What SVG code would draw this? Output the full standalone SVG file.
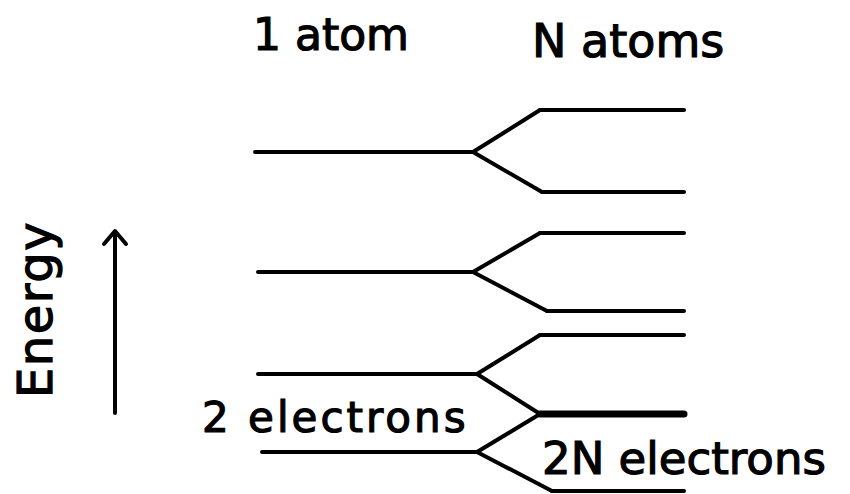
<svg xmlns="http://www.w3.org/2000/svg" width="850" height="494" viewBox="0 0 850 494">
<style>
.lv{stroke:#000;stroke-width:4;stroke-linecap:round;fill:none}
.thick{stroke-width:7}
.br{stroke:#000;stroke-width:4;stroke-linecap:round;stroke-linejoin:round;fill:none}
.t{font-family:"DejaVu Sans",sans-serif;fill:#000;stroke:#000;stroke-width:1.2}
</style>
<rect width="850" height="494" fill="#fff"/>
<g id="title-1atom"><text class="t" x="253" y="50" font-size="44">1 atom</text></g>
<g id="title-Natoms"><text class="t" x="532" y="57" font-size="46">N atoms</text></g>
<g id="energy-axis">
<text class="t" font-size="48" letter-spacing="1.5" transform="translate(52,398) rotate(-90)">Energy</text>
<line class="lv" x1="115" y1="413" x2="115" y2="232" stroke-width="3"/>
<polyline class="br" points="104,244 115,231 126,244" stroke-width="3.5"/>
</g>
<g id="atom-level-1"><line class="lv" x1="255" y1="152" x2="473" y2="152"/></g>
<g id="atom-level-2"><line class="lv" x1="258" y1="272" x2="473" y2="272"/></g>
<g id="atom-level-3"><line class="lv" x1="258" y1="374" x2="477" y2="374"/></g>
<g id="atom-level-4"><line class="lv" x1="262" y1="452" x2="477" y2="452"/></g>
<g id="band-1-upper"><line class="lv" x1="540" y1="110" x2="684" y2="110"/></g>
<g id="band-1-lower"><line class="lv" x1="542" y1="192" x2="684" y2="192"/></g>
<g id="band-2-upper"><line class="lv" x1="540" y1="233" x2="684" y2="233"/></g>
<g id="band-2-lower"><line class="lv" x1="547" y1="311" x2="684" y2="311"/></g>
<g id="band-3-upper"><line class="lv" x1="540" y1="335" x2="684" y2="335"/></g>
<g id="band-3-4-shared"><line class="lv thick" x1="540" y1="414" x2="684" y2="414"/></g>
<g id="band-4-lower"><line class="lv" x1="552" y1="491" x2="684" y2="491"/></g>
<g id="label-2electrons"><text class="t" x="202" y="432" font-size="42" letter-spacing="3">2 electrons</text></g>
<g id="label-2Nelectrons"><text class="t" x="542" y="474" font-size="45">2N electrons</text></g>
<g id="connectors">
<polyline class="br" points="540,110 473,152 542,192"/>
<polyline class="br" points="540,233 473,272 547,311"/>
<polyline class="br" points="540,335 477,374 540,414"/>
<polyline class="br" points="540,414 477,452 552,491"/>
</g>
</svg>
